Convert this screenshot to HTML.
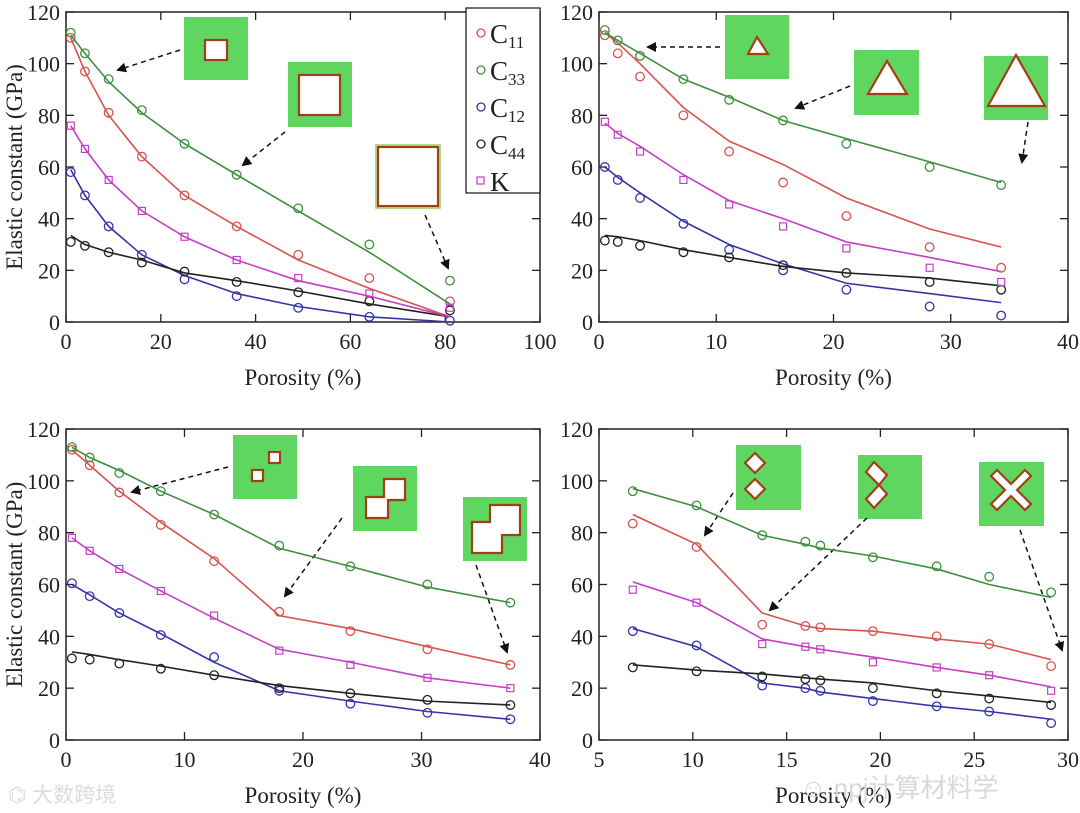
<!DOCTYPE html>
<html><head><meta charset="utf-8">
<style>
html,body{margin:0;padding:0;background:#fff;}
svg{display:block;}
text{font-family:"Liberation Serif",serif;fill:#222;}
</style></head>
<body>
<svg id="fig" width="1080" height="813" viewBox="0 0 1080 813" xmlns="http://www.w3.org/2000/svg">
<defs>
<marker id="ah" markerWidth="10" markerHeight="10" refX="8" refY="5" orient="auto" markerUnits="userSpaceOnUse">
<path d="M0,0 L10,5 L0,10 z" fill="#111"/></marker>
</defs>
<g id="insets"></g>
<g id="plots"></g>
<text x="8" y="802" font-size="21" style="font-family:'Liberation Sans','Noto Sans CJK SC',sans-serif;fill:#dcdcdc">⌬ 大数跨境</text>
<text x="800" y="797" font-size="26" style="font-family:'Liberation Sans','Noto Sans CJK SC',sans-serif;fill:#d8d8d8">☺ npj计算材料学</text>
</svg>
<script>
// ---------- data ----------
const p1X = [1, 4, 9, 16, 25, 36, 49, 64, 81];
const p1C11 = [110, 97, 81, 64, 49, 37, 26, 17, 8];
const p1C11Fit = [110, 97, 80, 64, 49, 37, 24, 13, 2];
const p1C33 = [112, 104, 94, 82, 69, 57, 44, 30, 16];
const p1C33Fit = [111, 104, 93, 81, 69, 57, 43, 27, 7];
const p1C12 = [58, 49, 37, 26, 16.5, 10, 5.5, 2, 0.5];
const p1C12Fit = [59, 49, 37, 26, 18, 11, 6, 2, 0];
const p1C44 = [31, 29.5, 27, 23, 19.5, 15.5, 11.5, 8, 4.5];
const p1C44Fit = [33.5, 30, 27, 24, 19, 16, 12, 7, 2];
const p1K = [76, 67, 55, 43, 33, 24, 17, 11, 5.5];
const p1KFit = [76, 67, 55, 43, 33, 24, 16, 10, 2];

const p2X = [0.5, 1.6, 3.5, 7.2, 11.1, 15.7, 21.1, 28.2, 34.3];
const p2C11 = [111, 104, 95, 80, 66, 54, 41, 29, 21];
const p2C11Fit = [112, 108, 100, 83, 70, 61, 48, 36, 29];
const p2C33 = [113, 109, 103, 94, 86, 78, 69, 60, 53];
const p2C33Fit = [112, 109, 104, 94, 87, 78, 71, 62, 54];
const p2C12 = [60, 55, 48, 38, 28, 20, 12.5, 6, 2.5];
const p2C12Fit = [60, 56, 50, 39, 30, 22.5, 15, 11, 7.5];
const p2C44 = [31.5, 31, 29.5, 27, 25, 22, 19, 15.5, 12.5];
const p2C44Fit = [33.5, 33, 31.5, 28, 25, 21.5, 19, 17, 14];
const p2K = [77.5, 72.5, 66, 55, 45.5, 37, 28.5, 21, 15.5];
const p2KFit = [77, 73, 68, 57, 47, 40, 31, 25, 19.5];

const p3X = [0.5, 2, 4.5, 8, 12.5, 18, 24, 30.5, 37.5];
const p3C11 = [112, 106, 95.5, 83, 69, 49.5, 42, 35, 29];
const p3C11Fit = [112, 106, 96, 84, 70, 48, 43, 36, 29];
const p3C33 = [113, 109, 103, 96, 87, 75, 67, 60, 53];
const p3C33Fit = [113, 109, 104, 96, 87, 74, 67, 59, 53];
const p3C12 = [60.5, 55.5, 49, 40.5, 32, 19, 14, 10.5, 8];
const p3C12Fit = [60, 56, 49, 41, 30, 19, 15, 11, 8];
const p3C44 = [31.5, 31, 29.5, 27.5, 25, 20, 18, 15.5, 13.5];
const p3C44Fit = [34, 33, 31, 28.5, 25, 21, 18, 15, 13.5];
const p3K = [78, 73, 66, 57.5, 48, 34.5, 29, 24, 20];
const p3KFit = [78, 73, 66, 57.5, 47, 35, 30, 24, 20];

const p4X = [6.8, 10.2, 13.7, 16, 16.8, 19.6, 23, 25.8, 29.1];
const p4C11 = [83.5, 74.5, 44.5, 44, 43.5, 42, 40, 37, 28.5];
const p4C11Fit = [87, 75.5, 49, 44, 43, 42, 39, 37, 31];
const p4C33 = [96, 90.5, 79, 76.5, 75, 70.5, 67, 63, 57];
const p4C33Fit = [97, 90, 79, 75.5, 74, 71, 66, 60, 55];
const p4C12 = [42, 36.5, 21, 20, 19, 15, 13, 11, 6.5];
const p4C12Fit = [43, 36, 22, 20, 18.5, 16, 13, 11, 8];
const p4C44 = [28, 26.5, 24.5, 23.5, 23, 20, 18, 16, 13.5];
const p4C44Fit = [29, 27, 25.5, 24, 23.5, 22, 19, 17, 14.5];
const p4K = [58, 53, 37, 36, 35, 30, 28, 25, 19];
const p4KFit = [61, 53, 39, 36, 35, 32, 28, 25, 20.5];

const yTicks = [0, 20, 40, 60, 80, 100, 120];
const p1XTicks = [0, 20, 40, 60, 80, 100];
const p2XTicks = [0, 10, 20, 30, 40];
const p3XTicks = [0, 10, 20, 30, 40];
const p4XTicks = [5, 10, 15, 20, 25, 30];
const seriesNames = ["C11", "C33", "C12", "C44", "K"];

// ---------- drawing ----------
const NS = "http://www.w3.org/2000/svg";
const COL = {C11:"#d9534f", C33:"#3f8f3f", C12:"#3535a8", C44:"#222222", K:"#c43fc4"};
function mk(tag, attrs, parent){const e=document.createElementNS(NS,tag);for(const k in attrs)e.setAttribute(k,attrs[k]);parent.appendChild(e);return e;}
const plots=document.getElementById('plots');

function panel(id, box, xmin, xmax, xticks, xs, series, showYTitle){
  const g=mk('g',{},plots);
  
  
  const sx=v=>box.l+(v-xmin)/(xmax-xmin)*(box.r-box.l);
  const sy=v=>box.b-(v/120)*(box.b-box.t);
  xticks.forEach(t=>{
    const x=sx(t);
    mk('line',{x1:x,x2:x,y1:box.b,y2:box.b-8,stroke:'#222','stroke-width':1.3},g);
    mk('line',{x1:x,x2:x,y1:box.t,y2:box.t+8,stroke:'#222','stroke-width':1.3},g);
    const tx=mk('text',{x:x,y:box.b+27,'font-size':22,'text-anchor':'middle'},g);
    tx.textContent=t;
    
    
  });
  yTicks.forEach(t=>{
    const y=sy(t);
    mk('line',{x1:box.l,x2:box.l+8,y1:y,y2:y,stroke:'#222','stroke-width':1.3},g);
    mk('line',{x1:box.r,x2:box.r-8,y1:y,y2:y,stroke:'#222','stroke-width':1.3},g);
    const ty=mk('text',{x:box.l-6,y:y+8,'font-size':22,'text-anchor':'end'},g);
    ty.textContent=t;
    
    
  });
  const frame=mk('rect',{x:box.l,y:box.t,width:box.r-box.l,height:box.b-box.t,fill:'none',stroke:'#222','stroke-width':1.5},g);
  
  
  const xt=mk('text',{x:(box.l+box.r)/2,y:box.b+63,'font-size':23,'text-anchor':'middle'},g);
  xt.textContent='Porosity (%)';
  
  
  if(showYTitle){
    const cy=(box.t+box.b)/2;
    const yt=mk('text',{x:22,y:cy,'font-size':23,'text-anchor':'middle',transform:`rotate(-90 22 ${cy})`},g);
    yt.textContent='Elastic constant (GPa)';
    
    
  }
  seriesNames.forEach(n=>{
    const s=series[n], c=COL[n];
    const pl=mk('polyline',{points:xs.map((x,i)=>sx(x)+','+sy(s.fit[i])).join(' '),fill:'none',stroke:c,'stroke-width':1.6},g);
    
    
    xs.forEach((x,i)=>{
      let m;
      if(n==='K') m=mk('rect',{x:sx(x)-3.5,y:sy(s.pts[i])-3.5,width:7,height:7,fill:'none',stroke:c,'stroke-width':1.2},g);
      else m=mk('circle',{cx:sx(x),cy:sy(s.pts[i]),r:4.3,fill:'none',stroke:c,'stroke-width':1.3},g);
      
      
    });
  });
}
panel('panel-square-pore',{l:66,r:540,t:12,b:322},0,100,p1XTicks,p1X,
 {C11:{pts:p1C11,fit:p1C11Fit},C33:{pts:p1C33,fit:p1C33Fit},C12:{pts:p1C12,fit:p1C12Fit},C44:{pts:p1C44,fit:p1C44Fit},K:{pts:p1K,fit:p1KFit}},true);
panel('panel-triangle-pore',{l:599,r:1068,t:12,b:322},0,40,p2XTicks,p2X,
 {C11:{pts:p2C11,fit:p2C11Fit},C33:{pts:p2C33,fit:p2C33Fit},C12:{pts:p2C12,fit:p2C12Fit},C44:{pts:p2C44,fit:p2C44Fit},K:{pts:p2K,fit:p2KFit}},false);
panel('panel-double-square-pore',{l:66,r:540,t:429,b:740},0,40,p3XTicks,p3X,
 {C11:{pts:p3C11,fit:p3C11Fit},C33:{pts:p3C33,fit:p3C33Fit},C12:{pts:p3C12,fit:p3C12Fit},C44:{pts:p3C44,fit:p3C44Fit},K:{pts:p3K,fit:p3KFit}},true);
panel('panel-diamond-pore',{l:599,r:1068,t:429,b:740},5,30,p4XTicks,p4X,
 {C11:{pts:p4C11,fit:p4C11Fit},C33:{pts:p4C33,fit:p4C33Fit},C12:{pts:p4C12,fit:p4C12Fit},C44:{pts:p4C44,fit:p4C44Fit},K:{pts:p4K,fit:p4KFit}},false);

// legend
const lg=mk('g',{},plots);


mk('rect',{x:466,y:8,width:74,height:185,fill:'#fff',stroke:'#222','stroke-width':1.3},lg);
const legLabels=[["C","11"],["C","33"],["C","12"],["C","44"],["K",""]];
seriesNames.forEach((n,i)=>{
  const y=33+i*37;
  if(n==='K') mk('rect',{x:477,y:y-4,width:7,height:7,fill:'none',stroke:COL[n],'stroke-width':1.2},lg);
  else mk('circle',{cx:481,cy:y,r:4,fill:'none',stroke:COL[n],'stroke-width':1.3},lg);
  const t=mk('text',{x:490,y:y+10,'font-size':27},lg);
  t.textContent=legLabels[i][0];
  if(legLabels[i][1]){const s=mk('tspan',{'font-size':17,dy:5},t);s.textContent=legLabels[i][1];}
  
  
});

// insets
const ins=document.getElementById('insets');
const GR='#5fd65f', BR='#a0401a';
function box(x,y,w,h,green){return mk('rect',{x:x,y:y,width:w,height:h,fill:green?GR:'#fff',stroke:green?'none':'#9c6',"stroke-width":1.5},ins);}
function arrow(x1,y1,x2,y2){return mk('line',{x1:x1,y1:y1,x2:x2,y2:y2,stroke:'#111','stroke-width':1.5,'stroke-dasharray':'5,4','marker-end':'url(#ah)'},ins);}
function hole(attrs,tag){mk(tag||'rect',Object.assign({fill:'#fff',stroke:BR,'stroke-width':2.2},attrs),ins);}
box(184,17,64,63,true); hole({x:205,y:40,width:22,height:20});
box(288,62,64,65,true); hole({x:299,y:75,width:41,height:40});
box(376,145,64,63,false); hole({x:378,y:147,width:60,height:59});
arrow(180,50,118,70); arrow(285,132,243,165); arrow(425,215,448,268);
box(725,15,64,64,true); hole({points:'757,37 748,54 768,54'},'polygon');
box(854,50,65,65,true); hole({points:'887,61 868,94 907,94'},'polygon');
box(984,56,64,64,true); hole({points:'1016,55 988,106 1045,106'},'polygon');
arrow(720,47,648,47); arrow(850,86,796,108); arrow(1028,122,1022,162);
box(233,435,64,64,true); hole({x:252,y:470,width:11,height:11}); hole({x:269,y:452,width:11,height:11});
box(353,466,64,65,true); hole({points:'384,479 405,479 405,500 388,500 388,518 366,518 366,497 384,497'},'polygon');
box(463,497,64,64,true); hole({points:'490,505 520,505 520,535 502,535 502,553 472,553 472,522 490,522'},'polygon');
arrow(228,467,132,492); arrow(342,518,285,596); arrow(476,565,507,652);
box(736,445,65,65,true);
hole({points:'755,453 765,463 755,473 745,463'},'polygon'); hole({points:'755,479 765,489 755,499 745,489'},'polygon');
box(858,455,64,64,true);
hole({points:'874,462 887,475 879,485 866,472'},'polygon'); hole({points:'879,485 887,494 874,508 866,499'},'polygon');
box(979,462,65,64,true);
hole({points:'991,476 997,470 1011,484 1025,470 1031,476 1017,490 1031,504 1025,510 1011,496 997,510 991,504 1005,490'},'polygon');
arrow(733,493,705,535); arrow(867,518,770,610); arrow(1020,530,1062,650);
</script>
</body></html>
